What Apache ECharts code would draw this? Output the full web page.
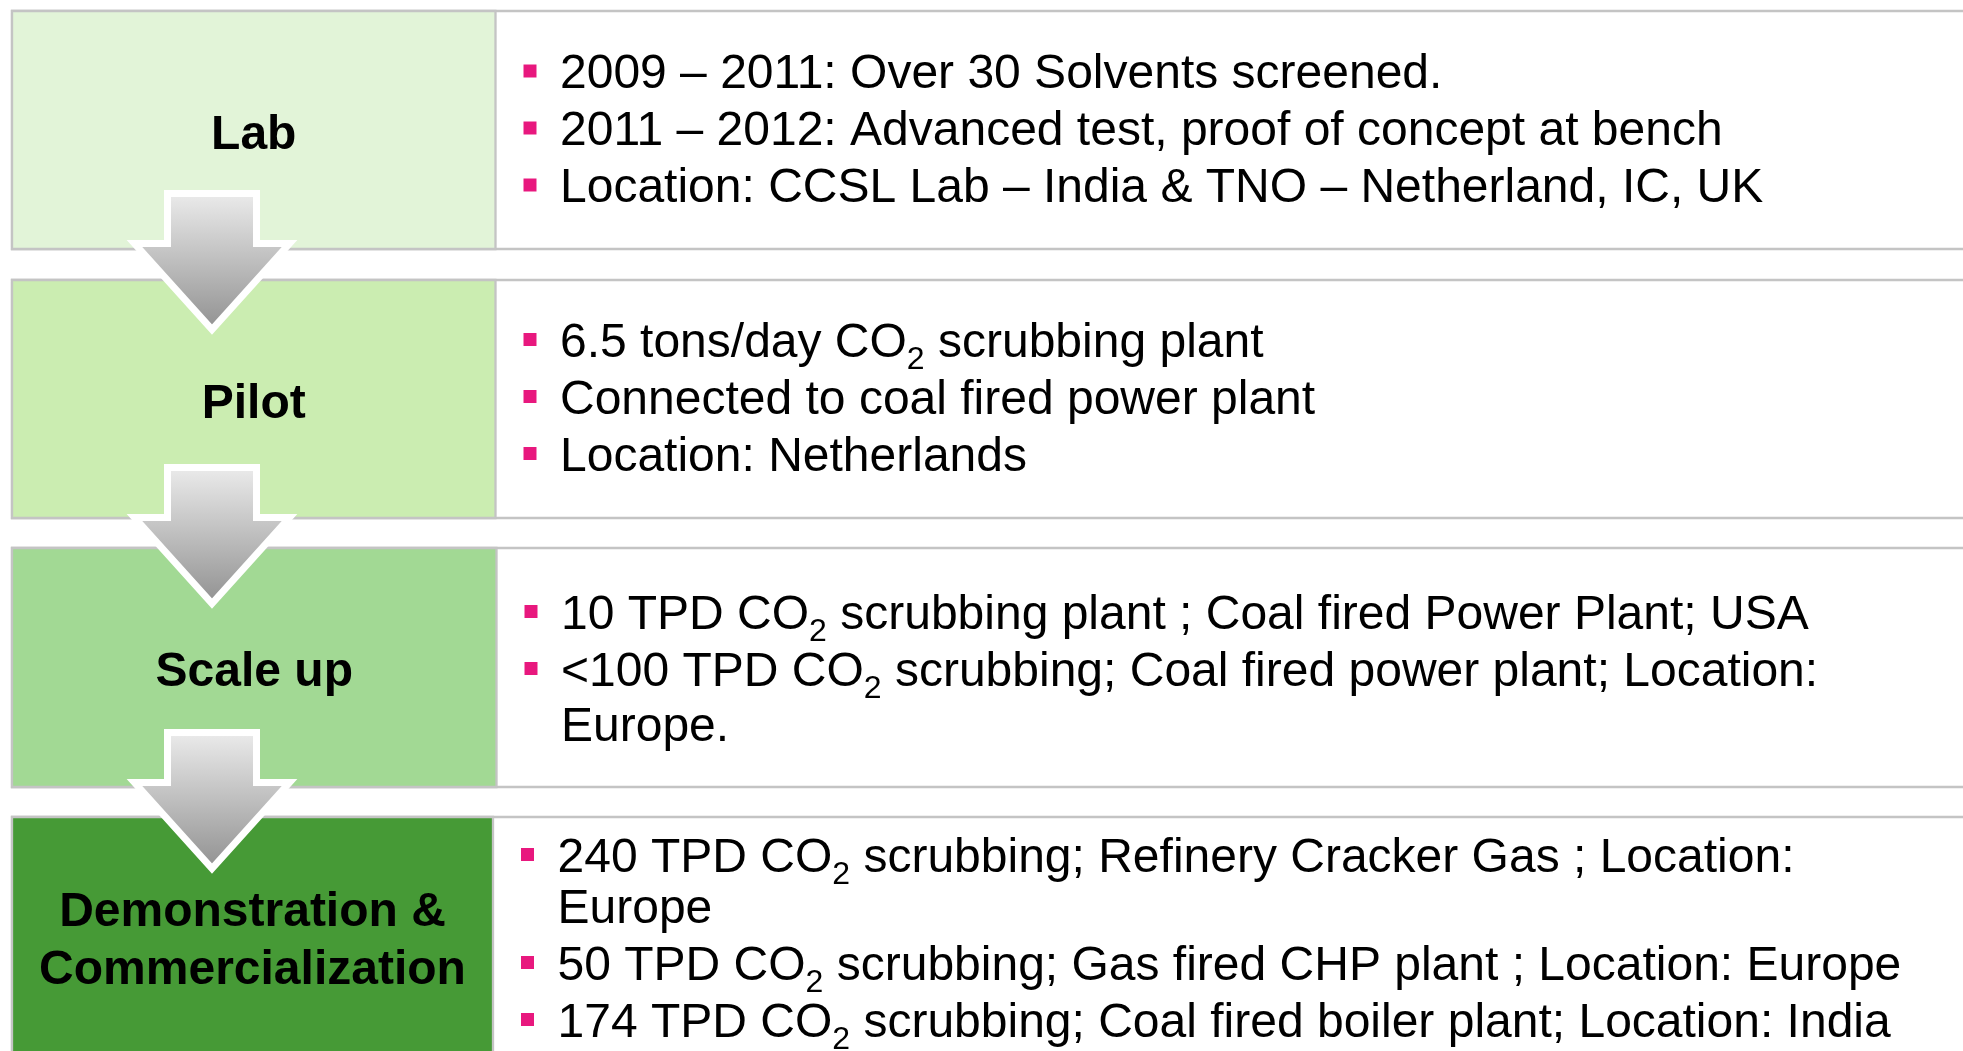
<!DOCTYPE html>
<html>
<head>
<meta charset="utf-8">
<style>
  html, body { margin: 0; padding: 0; background: #fff; }
  #main { width: 1963px; height: 1051px; }
</style>
<script src="https://cdn.jsdelivr.net/npm/echarts@6/dist/echarts.min.js"></script>
</head>
<body>
<div id="main"></div>
<script>
// stages (left column)
var stageNames = ['Lab', 'Pilot', 'Scale up', 'Demonstration &\nCommercialization'];
var stageColors = ['#e2f4d8', '#cbedb1', '#a2d994', '#469a36'];

// bullet lines per stage; {sub|2} = subscript, '~' at start = wrapped line (no bullet)
var labLines = [
    '2009 \u2013 2011: Over 30 Solvents screened.',
    '2011 \u2013 2012: Advanced test, proof of concept at bench',
    'Location: CCSL Lab \u2013 India & TNO \u2013 Netherland, IC, UK'
];
var pilotLines = [
    '6.5 tons/day CO{sub|2} scrubbing plant',
    'Connected to coal fired power plant',
    'Location: Netherlands'
];
var scaleLines = [
    '10 TPD CO{sub|2} scrubbing plant ; Coal fired Power Plant; USA',
    '<100 TPD CO{sub|2} scrubbing; Coal fired power plant; Location:',
    '~Europe.'
];
var demoLines = [
    '240 TPD CO{sub|2} scrubbing; Refinery Cracker Gas ; Location:',
    '~Europe',
    '50 TPD CO{sub|2} scrubbing; Gas fired CHP plant ; Location: Europe',
    '174 TPD CO{sub|2} scrubbing; Coal fired boiler plant; Location: India'
];
var stageLines = [labLines, pilotLines, scaleLines, demoLines];

// layout
var FONT = 'Liberation Sans, Arial, Helvetica, sans-serif';
var rowTop = [11, 280, 548, 817];
var rowH = [238, 238, 239, 260];
var divX = [495.5, 495.5, 496.5, 493];
var firstLine = [60.5, 60, 64, 38];   // first text line centre, from row top
var wrapStep = [57, 57, 55, 51];
var lineStep = 57;
var textDy = 3.5;                     // canvas 'middle' sits a bit above cap centre
var arrowTop = [193.5, 467.5, 732.5];

function buildElements() {
    var elements = [];
    for (var i = 0; i < stageNames.length; i++) {
        var rowY = rowTop[i];
        // whole row
        elements.push({
            type: 'rect', z: 1,
            shape: {x: 12, y: rowY, width: 2100, height: rowH[i]},
            style: {fill: '#fff', stroke: '#c4c4c4', lineWidth: 2.3}
        });
        // left coloured cell
        elements.push({
            type: 'rect', z: 2,
            shape: {x: 12, y: rowY, width: divX[i] - 12, height: rowH[i]},
            style: {fill: stageColors[i], stroke: '#c4c4c4', lineWidth: 2.3}
        });
        // stage label
        elements.push({
            type: 'text', z: 3,
            x: (12 + divX[i]) / 2, y: rowY + 124.5,
            style: {
                text: stageNames[i], fill: '#000',
                fontFamily: FONT, fontSize: 48, fontWeight: 'bold',
                align: 'center', verticalAlign: 'middle', lineHeight: 58
            }
        });
        // bullet lines
        var shift = divX[i] - 495.5;
        var lineY = rowY + firstLine[i];
        var lines = stageLines[i];
        for (var j = 0; j < lines.length; j++) {
            var txt = lines[j];
            var wrapped = txt.charAt(0) === '~';
            if (j > 0) {
                lineY += wrapped ? wrapStep[i] : lineStep;
            }
            if (wrapped) {
                txt = txt.substring(1);
            } else {
                elements.push({
                    type: 'rect', z: 3,
                    shape: {x: 523.5 + shift, y: lineY - 7, width: 13, height: 13},
                    style: {fill: '#e8187e'}
                });
            }
            elements.push({
                type: 'text', z: 3,
                x: 560 + shift, y: lineY + textDy,
                style: {
                    text: txt, fill: '#000',
                    fontFamily: FONT, fontSize: 48,
                    align: 'left', verticalAlign: 'middle', lineHeight: 57,
                    rich: {
                        sub: {fontFamily: FONT, fontSize: 32, fill: '#000', padding: [34, 0, 0, 0]}
                    }
                }
            });
        }
    }

    // down arrows between stages
    for (var k = 0; k < arrowTop.length; k++) {
        var cx = 212, t = arrowTop[k];
        elements.push({
            type: 'polygon', z: 10,
            shape: {
                points: [
                    [cx - 44.5, t], [cx + 44.5, t], [cx + 44.5, t + 50], [cx + 77.5, t + 50],
                    [cx, t + 136], [cx - 77.5, t + 50], [cx - 44.5, t + 50]
                ]
            },
            style: {
                fill: {
                    type: 'linear', x: 0, y: 0, x2: 0, y2: 1,
                    colorStops: [
                        {offset: 0, color: '#ededed'},
                        {offset: 1, color: '#8f8f8f'}
                    ]
                },
                stroke: '#fff', lineWidth: 7, lineJoin: 'miter'
            }
        });
    }
    return elements;
}
</script>
<script>
var myChart = echarts.init(document.getElementById('main'));
myChart.setOption({
    animation: false,
    graphic: {elements: buildElements()}
});
</script>
</body>
</html>
